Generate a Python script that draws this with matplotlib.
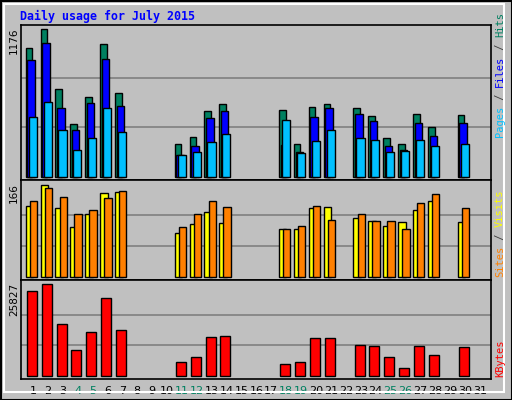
import numpy as np
import matplotlib.pyplot as plt
from matplotlib.patches import Rectangle

# データ
days = np.arange(1, 32)
weekend = [4, 5, 11, 12, 18, 19, 25, 26]
d = [1, 2, 3, 4, 5, 6, 7, 11, 12, 13, 14, 18, 19, 20, 21, 23, 24, 25, 26, 27, 28, 30]
hits = [1020, 1176, 694, 416, 631, 1052, 663, 257, 313, 520, 575,
        528, 257, 551, 575, 543, 480, 305, 257, 496, 393, 488]
files = [925, 1062, 543, 369, 583, 933, 559, 170, 242, 464, 520,
         250, 194, 472, 543, 496, 440, 242, 210, 424, 321, 424]
pages = [472, 591, 369, 210, 305, 543, 353, 170, 194, 273, 337,
         448, 186, 281, 369, 305, 289, 194, 202, 289, 242, 257]
visits = [127, 165, 124, 90, 113, 151, 152, 79, 95, 117, 97,
          85, 86, 124, 126, 106, 101, 92, 99, 120, 136, 99]
sites = [136, 160, 144, 113, 119, 142, 154, 90, 113, 136, 126,
         85, 92, 127, 102, 113, 101, 101, 86, 133, 149, 124]
kbytes = [23850, 25827, 14524, 7177, 12263, 21871, 12829, 3786, 5199, 10851, 11133,
          3221, 3786, 10568, 10568, 8590, 8308, 5199, 2091, 8308, 5764, 8025]

W, H = 512, 400
GRAY = '#C0C0C0'
fig = plt.figure(figsize=(W / 100, H / 100), dpi=100, facecolor=GRAY)
x = np.array(d)


def px_axes(top, bottom, left=20.7, right=491):
    return fig.add_axes([left / W, 1 - bottom / H, (right - left) / W, (bottom - top) / H])


def style(ax, vmax, lo, hi):
    ax.set_facecolor(GRAY)
    ax.set_xlim(0.175, 31.74)
    ax.set_ylim(lo, hi)
    for v in (vmax / 3, vmax * 2 / 3):
        ax.axhline(v, color='#808080', lw=1.2, zorder=0)
    ax.set_yticks([])
    for s in ax.spines.values():
        s.set_color('black')
        s.set_linewidth(1.2)


kw = dict(align='edge', edgecolor='black', linewidth=1)

# 上段: Hits / Files / Pages
ax1 = px_axes(25, 180)
style(ax1, 1176, -26, 1205)
ax1.bar(x - 0.49, hits, 0.44, color='#008060', **kw)
ax1.bar(x - 0.38, files, 0.5, color='#0000FF', **kw)
ax1.bar(x - 0.29, pages, 0.54, color='#00C0FF', **kw)
ax1.set_xticks([])

# 中段: Visits / Sites
ax2 = px_axes(180, 280)
style(ax2, 166, -5.9, 173.8)
ax2.bar(x - 0.49, visits, 0.5, color='#FFFF00', **kw)
ax2.bar(x - 0.22, sites, 0.49, color='#FF8000', **kw)
ax2.set_xticks([])

# 下段: KBytes
ax3 = px_axes(280, 379)
style(ax3, 25827, -933, 27045)
ax3.bar(x - 0.42, kbytes, 0.67, color='#FF0000', **kw)
ax3.set_xticks(days)
ax3.set_xticklabels([str(i) for i in days], fontsize=8, family='DejaVu Sans')
ax3.tick_params(axis='x', length=0, pad=5)
for lbl, i in zip(ax3.get_xticklabels(), days):
    lbl.set_color('#008060' if i in weekend else 'black')

# タイトル・ラベル
fig.text(20 / W, 1 - 16 / H, 'Daily usage for July 2015', color='#0000FF',
         fontsize=8.4, family='DejaVu Sans Mono', fontweight='bold', va='center')
for txt, y in [('1176', 27), ('166', 183), ('25827', 283)]:
    fig.text(14 / W, 1 - y / H, txt, rotation=90, fontsize=7.5,
             ha='center', va='top', family='DejaVu Sans')


def vlabel(parts, ybottom, xpos=500, fs=7.5):
    cw = 0.6 * fs * 100 / 72
    y = ybottom
    for txt, col in parts:
        fig.text(xpos / W, 1 - y / H, txt, rotation=90, color=col, fontsize=fs,
                 family='DejaVu Sans Mono', ha='center', va='bottom')
        y -= len(txt) * cw


vlabel([('Pages', '#00C0FF'), (' / ', '#404040'), ('Files', '#0000FF'),
        (' / ', '#404040'), ('Hits', '#008060')], 137)
vlabel([('Sites', '#FF8000'), (' / ', '#404040'), ('Visits', '#FFFF00')], 277)
vlabel([('KBytes', '#FF0000')], 377)

# 外枠
fig.patches.append(Rectangle((0.5 / W, 0.5 / H), 1 - 1 / W, 1 - 1 / H, transform=fig.transFigure,
                             fill=False, edgecolor='black', lw=1.5))
fig.patches.append(Rectangle((4 / W, 8 / H), 1 - 12 / W, 1 - 12 / H, transform=fig.transFigure,
                             fill=False, edgecolor='white', lw=1.5))

fig.savefig('out.png', dpi=100, facecolor=GRAY)
